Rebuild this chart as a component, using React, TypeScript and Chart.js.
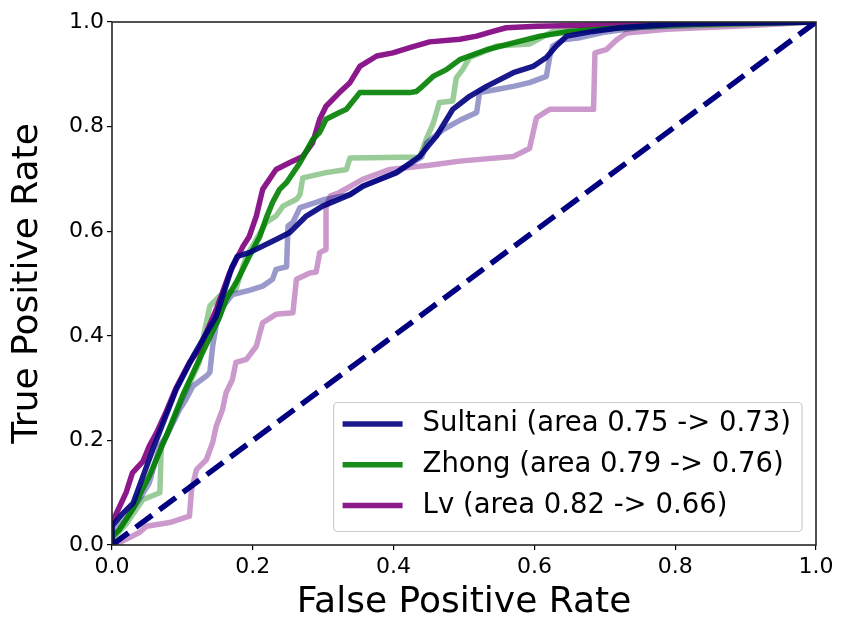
import React, { useEffect, useRef } from 'react';
import { Chart, registerables } from 'chart.js';

Chart.register(...registerables);

// ---- data (FPR, TPR) ----
const X_TICKS = [0, 0.2, 0.4, 0.6, 0.8, 1.0];
const Y_TICKS = [0, 0.2, 0.4, 0.6, 0.8, 1.0];

const CHANCE_LINE = [[0, 0], [1, 1]];

const SULTANI_ROC = [
  [0, 0], [0, 0.036], [0.015, 0.06], [0.03, 0.08], [0.06, 0.19], [0.091, 0.297], [0.115, 0.36],
  [0.148, 0.437], [0.17, 0.53], [0.178, 0.552], [0.195, 0.559], [0.233, 0.584], [0.252, 0.597],
  [0.276, 0.629], [0.299, 0.648], [0.338, 0.67], [0.356, 0.686], [0.404, 0.712], [0.437, 0.743],
  [0.451, 0.766], [0.461, 0.782], [0.484, 0.833], [0.508, 0.858], [0.532, 0.877], [0.57, 0.903],
  [0.598, 0.915], [0.617, 0.932], [0.631, 0.954], [0.646, 0.973], [0.683, 0.982], [0.721, 0.989],
  [0.8, 0.996], [1, 1],
];

const SULTANI_ROC_AFTER = [
  [0, 0], [0, 0.02], [0.02, 0.05], [0.04, 0.09], [0.053, 0.119], [0.068, 0.19], [0.077, 0.208],
  [0.096, 0.259], [0.105, 0.278], [0.115, 0.304], [0.134, 0.323], [0.139, 0.33], [0.143, 0.38],
  [0.148, 0.42], [0.157, 0.455], [0.171, 0.479], [0.195, 0.487], [0.214, 0.495], [0.228, 0.508],
  [0.233, 0.527], [0.248, 0.532], [0.25, 0.61], [0.257, 0.617], [0.267, 0.645], [0.29, 0.655],
  [0.3, 0.66], [0.338, 0.67], [0.36, 0.688], [0.404, 0.712], [0.44, 0.742], [0.447, 0.769],
  [0.47, 0.794], [0.494, 0.812], [0.518, 0.827], [0.522, 0.865], [0.546, 0.871], [0.57, 0.877],
  [0.593, 0.884], [0.617, 0.896], [0.622, 0.935], [0.626, 0.954], [0.641, 0.966], [0.665, 0.97],
  [0.697, 0.98], [0.75, 0.99], [0.85, 0.997], [1, 1],
];

const ZHONG_ROC = [
  [0, 0], [0, 0.015], [0.011, 0.03], [0.03, 0.07], [0.043, 0.106], [0.053, 0.132], [0.077, 0.208],
  [0.1, 0.285], [0.124, 0.355], [0.153, 0.437], [0.162, 0.469], [0.176, 0.501], [0.181, 0.514],
  [0.195, 0.552], [0.21, 0.59], [0.219, 0.625], [0.228, 0.655], [0.238, 0.68], [0.248, 0.693],
  [0.267, 0.731], [0.285, 0.775], [0.295, 0.789], [0.304, 0.814], [0.323, 0.827], [0.333, 0.833],
  [0.352, 0.865], [0.423, 0.865], [0.432, 0.867], [0.441, 0.877], [0.456, 0.896], [0.475, 0.909],
  [0.494, 0.928], [0.532, 0.947], [0.57, 0.96], [0.608, 0.973], [0.65, 0.982], [0.721, 0.989],
  [0.8, 0.995], [1, 1],
];

const ZHONG_ROC_AFTER = [
  [0, 0], [0, 0.01], [0.02, 0.04], [0.044, 0.087], [0.068, 0.1], [0.07, 0.189], [0.08, 0.215],
  [0.1, 0.28], [0.124, 0.349], [0.13, 0.4], [0.139, 0.457], [0.153, 0.476], [0.176, 0.489],
  [0.186, 0.533], [0.191, 0.552], [0.219, 0.617], [0.233, 0.629], [0.243, 0.648], [0.262, 0.661],
  [0.267, 0.67], [0.271, 0.702], [0.304, 0.712], [0.333, 0.718], [0.338, 0.74], [0.437, 0.742],
  [0.447, 0.778], [0.456, 0.805], [0.465, 0.846], [0.484, 0.849], [0.489, 0.893], [0.498, 0.909],
  [0.508, 0.932], [0.532, 0.945], [0.546, 0.954], [0.593, 0.958], [0.626, 0.982], [0.674, 0.985],
  [0.75, 0.99], [1, 1],
];

const LV_ROC = [
  [0, 0], [0, 0.043], [0.011, 0.074], [0.02, 0.1], [0.029, 0.138], [0.044, 0.16], [0.053, 0.189],
  [0.063, 0.214], [0.077, 0.255], [0.091, 0.3], [0.11, 0.349], [0.124, 0.374], [0.148, 0.45],
  [0.167, 0.52], [0.186, 0.571], [0.195, 0.59], [0.205, 0.629], [0.214, 0.68], [0.219, 0.69],
  [0.233, 0.718], [0.252, 0.731], [0.271, 0.743], [0.285, 0.769], [0.295, 0.814], [0.304, 0.839],
  [0.323, 0.865], [0.338, 0.884], [0.352, 0.915], [0.376, 0.935], [0.399, 0.941], [0.423, 0.951],
  [0.451, 0.962], [0.494, 0.967], [0.518, 0.973], [0.541, 0.982], [0.56, 0.989], [0.603, 0.992],
  [0.721, 0.995], [1, 1],
];

const LV_ROC_AFTER = [
  [0, 0], [0.011, 0.005], [0.039, 0.024], [0.049, 0.036], [0.082, 0.043], [0.11, 0.055],
  [0.113, 0.106], [0.12, 0.144], [0.134, 0.163], [0.143, 0.196], [0.148, 0.227], [0.157, 0.259],
  [0.162, 0.291], [0.171, 0.316], [0.176, 0.349], [0.191, 0.355], [0.205, 0.38], [0.214, 0.425],
  [0.233, 0.441], [0.257, 0.444], [0.262, 0.508], [0.281, 0.52], [0.29, 0.522], [0.295, 0.559],
  [0.304, 0.565], [0.304, 0.645], [0.31, 0.667], [0.323, 0.674], [0.356, 0.699], [0.394, 0.718],
  [0.451, 0.726], [0.494, 0.734], [0.57, 0.743], [0.593, 0.758], [0.603, 0.817], [0.617, 0.829],
  [0.622, 0.833], [0.684, 0.833], [0.686, 0.941], [0.702, 0.947], [0.717, 0.966], [0.731, 0.979],
  [0.788, 0.986], [0.9, 0.993], [1, 1],
];

const LEGEND_LABELS = [
  'Sultani (area 0.75 -> 0.73)',
  'Zhong (area 0.79 -> 0.76)',
  'Lv (area 0.82 -> 0.66)',
];

const X_TITLE = 'False Positive Rate';
const Y_TITLE = 'True Positive Rate';

// ---- styles ----
const FONT = "'DejaVu Sans', 'Liberation Sans', sans-serif";
const NAVY = 'rgba(0,0,128,0.9)';
const NAVY_FADED = 'rgba(0,0,128,0.4)';
const GREEN = 'rgba(0,128,0,0.9)';
const GREEN_FADED = 'rgba(0,128,0,0.4)';
const PURPLE = 'rgba(128,0,128,0.9)';
const PURPLE_FADED = 'rgba(128,0,128,0.4)';
const LW = 5.5;

const toPoints = (arr: number[][]) => arr.map(([x, y]) => ({ x, y }));

const framePlugin = {
  id: 'frame',
  afterDatasetsDraw(chart: any) {
    const { ctx, chartArea } = chart;
    ctx.save();
    ctx.strokeStyle = '#262626';
    ctx.lineWidth = 1.6;
    ctx.strokeRect(chartArea.left, chartArea.top, chartArea.right - chartArea.left, chartArea.bottom - chartArea.top);
    ctx.restore();
  },
};

const legendPlugin = {
  id: 'boxLegend',
  afterDraw(chart: any) {
    const { ctx, chartArea } = chart;
    const items = chart.data.datasets.filter((d: any) => d.inLegend);
    ctx.save();
    ctx.font = `27.5px ${FONT}`;
    let maxW = 0;
    items.forEach((d: any) => { maxW = Math.max(maxW, ctx.measureText(d.label).width); });
    const padL = 9, lineLen = 60, gap = 20, padR = 11, rowH = 40.7, padT = 21.5;
    const w = padL + lineLen + gap + maxW + padR;
    const h = 129;
    const x0 = chartArea.right - 14 - w;
    const y0 = chartArea.bottom - 13.5 - h;
    const r = 4;
    ctx.beginPath();
    ctx.moveTo(x0 + r, y0);
    ctx.lineTo(x0 + w - r, y0);
    ctx.arcTo(x0 + w, y0, x0 + w, y0 + r, r);
    ctx.lineTo(x0 + w, y0 + h - r);
    ctx.arcTo(x0 + w, y0 + h, x0 + w - r, y0 + h, r);
    ctx.lineTo(x0 + r, y0 + h);
    ctx.arcTo(x0, y0 + h, x0, y0 + h - r, r);
    ctx.lineTo(x0, y0 + r);
    ctx.arcTo(x0, y0, x0 + r, y0, r);
    ctx.closePath();
    ctx.fillStyle = 'rgba(255,255,255,0.8)';
    ctx.fill();
    ctx.strokeStyle = '#cccccc';
    ctx.lineWidth = 1.2;
    ctx.stroke();
    items.forEach((d: any, i: number) => {
      const cy = y0 + padT + i * rowH;
      ctx.beginPath();
      ctx.strokeStyle = d.borderColor;
      ctx.lineWidth = LW;
      ctx.lineCap = 'butt';
      ctx.moveTo(x0 + padL, cy);
      ctx.lineTo(x0 + padL + lineLen, cy);
      ctx.stroke();
      ctx.fillStyle = '#000';
      ctx.textBaseline = 'middle';
      ctx.textAlign = 'left';
      ctx.fillText(d.label, x0 + padL + lineLen + gap, cy);
    });
    ctx.restore();
  },
};

export default function App() {
  const ref = useRef<HTMLCanvasElement | null>(null);
  useEffect(() => {
    if (!ref.current) return;
    const line = (data: number[][], color: string, label: string, inLegend: boolean, extra: any = {}) => ({
      label,
      data: toPoints(data),
      borderColor: color,
      backgroundColor: color,
      borderWidth: LW,
      pointRadius: 0,
      tension: 0,
      fill: false,
      borderJoinStyle: 'round',
      borderCapStyle: 'butt',
      inLegend,
      ...extra,
    });
    const chart = new Chart(ref.current, {
      type: 'line',
      data: {
        datasets: [
          line(CHANCE_LINE, '#000080', '', false, { borderDash: [20.5, 9] }),
          line(SULTANI_ROC, NAVY, LEGEND_LABELS[0], true),
          line(ZHONG_ROC, GREEN, LEGEND_LABELS[1], true),
          line(LV_ROC, PURPLE, LEGEND_LABELS[2], true),
          line(SULTANI_ROC_AFTER, NAVY_FADED, '', false),
          line(ZHONG_ROC_AFTER, GREEN_FADED, '', false),
          line(LV_ROC_AFTER, PURPLE_FADED, '', false),
        ] as any,
      },
      options: {
        animation: false,
        responsive: false,
        maintainAspectRatio: false,
        layout: { padding: { top: 22, right: 25, left: 0, bottom: 0 } },
        plugins: {
          legend: { display: false },
          tooltip: { enabled: false },
        },
        scales: {
          x: {
            type: 'linear',
            min: 0,
            max: 1,
            afterBuildTicks: (s: any) => { s.ticks = X_TICKS.map((v) => ({ value: v })); },
            afterFit: (s: any) => { s.height = 82; },
            ticks: {
              color: '#000',
              font: { family: FONT, size: 22 },
              padding: 4,
              maxRotation: 0,
              callback: (v: any) => Number(v).toFixed(1),
            },
            grid: { drawOnChartArea: false, drawTicks: true, tickLength: 5, color: '#000', lineWidth: 1.2 },
            border: { display: false },
            title: {
              display: true,
              text: X_TITLE,
              color: '#000',
              font: { family: FONT, size: 36 },
              padding: { top: 0, bottom: 3 },
            },
          },
          y: {
            type: 'linear',
            min: 0,
            max: 1,
            afterBuildTicks: (s: any) => { s.ticks = Y_TICKS.map((v) => ({ value: v })); },
            afterFit: (s: any) => { s.width = 112; },
            ticks: {
              color: '#000',
              font: { family: FONT, size: 22 },
              padding: 3,
              callback: (v: any) => Number(v).toFixed(1),
            },
            grid: { drawOnChartArea: false, drawTicks: true, tickLength: 5, color: '#000', lineWidth: 1.2 },
            border: { display: false },
            title: {
              display: true,
              text: Y_TITLE,
              color: '#000',
              font: { family: FONT, size: 36 },
              padding: { top: 6, bottom: 0 },
            },
          },
        },
      },
      plugins: [framePlugin, legendPlugin],
    });
    return () => chart.destroy();
  }, []);
  return (
    <div style={{ position: 'fixed', left: 0, top: 0, width: 841, height: 627, background: '#fff' }}>
      <canvas ref={ref} width={841} height={627} style={{ display: 'block', width: 841, height: 627 }} />
    </div>
  );
}
